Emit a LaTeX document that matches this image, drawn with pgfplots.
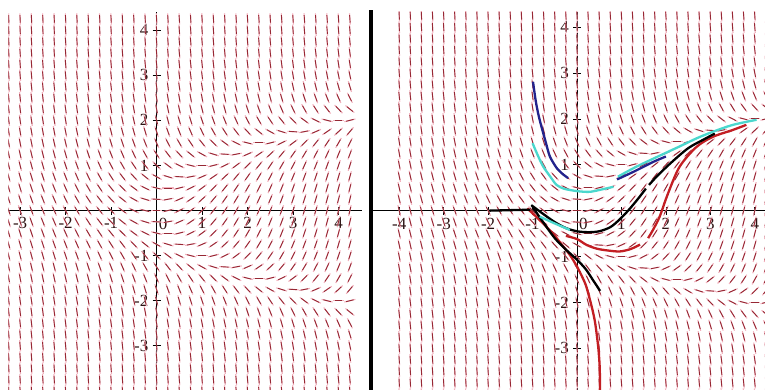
\documentclass[border=0pt]{standalone}
\usepackage{fontspec}
\setmainfont{Liberation Serif}
\usepackage{pgfplots}
\usepackage{pgfplotstable}
\pgfplotsset{compat=1.18}
\definecolor{fieldc}{RGB}{150,40,52}
\definecolor{fieldp}{RGB}{242,178,190}
\definecolor{navyc}{RGB}{35,35,140}
\definecolor{cyanc}{RGB}{75,215,205}
\definecolor{redc}{RGB}{195,30,35}
\definecolor{labc}{RGB}{45,20,20}

% slope dy/dx at grid points: rows y, columns x = -4, -3.75, ..., 4.25 (c0..c33)
\pgfplotstableread{
y c0 c1 c2 c3 c4 c5 c6 c7 c8 c9 c10 c11 c12 c13 c14 c15 c16 c17 c18 c19 c20 c21 c22 c23 c24 c25 c26 c27 c28 c29 c30 c31 c32 c33
4.25 -22.06 -21.81 -21.56 -21.31 -21.06 -20.81 -20.56 -20.31 -20.06 -19.81 -19.56 -19.31 -19.06 -18.81 -18.56 -18.31 -18.06 -17.81 -17.56 -17.31 -17.06 -16.81 -16.56 -16.31 -16.06 -15.81 -15.56 -15.31 -15.06 -14.81 -14.56 -14.31 -14.06 -13.81
4 -20 -19.75 -19.5 -19.25 -19 -18.75 -18.5 -18.25 -18 -17.75 -17.5 -17.25 -17 -16.75 -16.5 -16.25 -16 -15.75 -15.5 -15.25 -15 -14.75 -14.5 -14.25 -14 -13.75 -13.5 -13.25 -13 -12.75 -12.5 -12.25 -12 -11.75
3.75 -18.06 -17.81 -17.56 -17.31 -17.06 -16.81 -16.56 -16.31 -16.06 -15.81 -15.56 -15.31 -15.06 -14.81 -14.56 -14.31 -14.06 -13.81 -13.56 -13.31 -13.06 -12.81 -12.56 -12.31 -12.06 -11.81 -11.56 -11.31 -11.06 -10.81 -10.56 -10.31 -10.06 -9.81
3.5 -16.25 -16 -15.75 -15.5 -15.25 -15 -14.75 -14.5 -14.25 -14 -13.75 -13.5 -13.25 -13 -12.75 -12.5 -12.25 -12 -11.75 -11.5 -11.25 -11 -10.75 -10.5 -10.25 -10 -9.75 -9.5 -9.25 -9 -8.75 -8.5 -8.25 -8
3.25 -14.56 -14.31 -14.06 -13.81 -13.56 -13.31 -13.06 -12.81 -12.56 -12.31 -12.06 -11.81 -11.56 -11.31 -11.06 -10.81 -10.56 -10.31 -10.06 -9.81 -9.56 -9.31 -9.06 -8.81 -8.56 -8.31 -8.06 -7.81 -7.56 -7.31 -7.06 -6.81 -6.56 -6.31
3 -13 -12.75 -12.5 -12.25 -12 -11.75 -11.5 -11.25 -11 -10.75 -10.5 -10.25 -10 -9.75 -9.5 -9.25 -9 -8.75 -8.5 -8.25 -8 -7.75 -7.5 -7.25 -7 -6.75 -6.5 -6.25 -6 -5.75 -5.5 -5.25 -5 -4.75
2.75 -11.56 -11.31 -11.06 -10.81 -10.56 -10.31 -10.06 -9.81 -9.56 -9.31 -9.06 -8.81 -8.56 -8.31 -8.06 -7.81 -7.56 -7.31 -7.06 -6.81 -6.56 -6.31 -6.06 -5.81 -5.56 -5.31 -5.06 -4.81 -4.56 -4.31 -4.06 -3.81 -3.56 -3.31
2.5 -10.25 -10 -9.75 -9.5 -9.25 -9 -8.75 -8.5 -8.25 -8 -7.75 -7.5 -7.25 -7 -6.75 -6.5 -6.25 -6 -5.75 -5.5 -5.25 -5 -4.75 -4.5 -4.25 -4 -3.75 -3.5 -3.25 -3 -2.75 -2.5 -2.25 -2
2.25 -9.06 -8.81 -8.56 -8.31 -8.06 -7.81 -7.56 -7.31 -7.06 -6.81 -6.56 -6.31 -6.06 -5.81 -5.56 -5.31 -5.06 -4.81 -4.56 -4.31 -4.06 -3.81 -3.56 -3.31 -3.06 -2.81 -2.56 -2.31 -2.06 -1.81 -1.56 -1.31 -1.06 -0.81
2 -8 -7.75 -7.5 -7.25 -7 -6.75 -6.5 -6.25 -6 -5.75 -5.5 -5.25 -5 -4.75 -4.5 -4.25 -4 -3.75 -3.5 -3.25 -3 -2.75 -2.5 -2.25 -2 -1.75 -1.5 -1.25 -1 -0.75 -0.5 -0.25 0 0.25
1.75 -7.06 -6.81 -6.56 -6.31 -6.06 -5.81 -5.56 -5.31 -5.06 -4.81 -4.56 -4.31 -4.06 -3.81 -3.56 -3.31 -3.06 -2.81 -2.56 -2.31 -2.06 -1.81 -1.56 -1.31 -1.06 -0.81 -0.56 -0.31 -0.06 0.19 0.44 0.69 0.94 1.19
1.5 -6.25 -6 -5.75 -5.5 -5.25 -5 -4.75 -4.5 -4.25 -4 -3.75 -3.5 -3.25 -3 -2.75 -2.5 -2.25 -2 -1.75 -1.5 -1.25 -1 -0.75 -0.5 -0.25 0 0.25 0.5 0.75 1 1.25 1.5 1.75 2
1.25 -5.56 -5.31 -5.06 -4.81 -4.56 -4.31 -4.06 -3.81 -3.56 -3.31 -3.06 -2.81 -2.56 -2.31 -2.06 -1.81 -1.56 -1.31 -1.06 -0.81 -0.56 -0.31 -0.06 0.19 0.44 0.69 0.94 1.19 1.44 1.69 1.94 2.19 2.44 2.69
1 -5 -4.75 -4.5 -4.25 -4 -3.75 -3.5 -3.25 -3 -2.75 -2.5 -2.25 -2 -1.75 -1.5 -1.25 -1 -0.75 -0.5 -0.25 0 0.25 0.5 0.75 1 1.25 1.5 1.75 2 2.25 2.5 2.75 3 3.25
0.75 -4.56 -4.31 -4.06 -3.81 -3.56 -3.31 -3.06 -2.81 -2.56 -2.31 -2.06 -1.81 -1.56 -1.31 -1.06 -0.81 -0.56 -0.31 -0.06 0.19 0.44 0.69 0.94 1.19 1.44 1.69 1.94 2.19 2.44 2.69 2.94 3.19 3.44 3.69
0.5 -4.25 -4 -3.75 -3.5 -3.25 -3 -2.75 -2.5 -2.25 -2 -1.75 -1.5 -1.25 -1 -0.75 -0.5 -0.25 0 0.25 0.5 0.75 1 1.25 1.5 1.75 2 2.25 2.5 2.75 3 3.25 3.5 3.75 4
0.25 -4.06 -3.81 -3.56 -3.31 -3.06 -2.81 -2.56 -2.31 -2.06 -1.81 -1.56 -1.31 -1.06 -0.81 -0.56 -0.31 -0.06 0.19 0.44 0.69 0.94 1.19 1.44 1.69 1.94 2.19 2.44 2.69 2.94 3.19 3.44 3.69 3.94 4.19
0 -4 -3.75 -3.5 -3.25 -3 -2.75 -2.5 -2.25 -2 -1.75 -1.5 -1.25 -1 -0.75 -0.5 -0.25 0 0.25 0.5 0.75 1 1.25 1.5 1.75 2 2.25 2.5 2.75 3 3.25 3.5 3.75 4 4.25
-0.25 -4.06 -3.81 -3.56 -3.31 -3.06 -2.81 -2.56 -2.31 -2.06 -1.81 -1.56 -1.31 -1.06 -0.81 -0.56 -0.31 -0.06 0.19 0.44 0.69 0.94 1.19 1.44 1.69 1.94 2.19 2.44 2.69 2.94 3.19 3.44 3.69 3.94 4.19
-0.5 -4.25 -4 -3.75 -3.5 -3.25 -3 -2.75 -2.5 -2.25 -2 -1.75 -1.5 -1.25 -1 -0.75 -0.5 -0.25 0 0.25 0.5 0.75 1 1.25 1.5 1.75 2 2.25 2.5 2.75 3 3.25 3.5 3.75 4
-0.75 -4.56 -4.31 -4.06 -3.81 -3.56 -3.31 -3.06 -2.81 -2.56 -2.31 -2.06 -1.81 -1.56 -1.31 -1.06 -0.81 -0.56 -0.31 -0.06 0.19 0.44 0.69 0.94 1.19 1.44 1.69 1.94 2.19 2.44 2.69 2.94 3.19 3.44 3.69
-1 -5 -4.75 -4.5 -4.25 -4 -3.75 -3.5 -3.25 -3 -2.75 -2.5 -2.25 -2 -1.75 -1.5 -1.25 -1 -0.75 -0.5 -0.25 0 0.25 0.5 0.75 1 1.25 1.5 1.75 2 2.25 2.5 2.75 3 3.25
-1.25 -5.56 -5.31 -5.06 -4.81 -4.56 -4.31 -4.06 -3.81 -3.56 -3.31 -3.06 -2.81 -2.56 -2.31 -2.06 -1.81 -1.56 -1.31 -1.06 -0.81 -0.56 -0.31 -0.06 0.19 0.44 0.69 0.94 1.19 1.44 1.69 1.94 2.19 2.44 2.69
-1.5 -6.25 -6 -5.75 -5.5 -5.25 -5 -4.75 -4.5 -4.25 -4 -3.75 -3.5 -3.25 -3 -2.75 -2.5 -2.25 -2 -1.75 -1.5 -1.25 -1 -0.75 -0.5 -0.25 0 0.25 0.5 0.75 1 1.25 1.5 1.75 2
-1.75 -7.06 -6.81 -6.56 -6.31 -6.06 -5.81 -5.56 -5.31 -5.06 -4.81 -4.56 -4.31 -4.06 -3.81 -3.56 -3.31 -3.06 -2.81 -2.56 -2.31 -2.06 -1.81 -1.56 -1.31 -1.06 -0.81 -0.56 -0.31 -0.06 0.19 0.44 0.69 0.94 1.19
-2 -8 -7.75 -7.5 -7.25 -7 -6.75 -6.5 -6.25 -6 -5.75 -5.5 -5.25 -5 -4.75 -4.5 -4.25 -4 -3.75 -3.5 -3.25 -3 -2.75 -2.5 -2.25 -2 -1.75 -1.5 -1.25 -1 -0.75 -0.5 -0.25 0 0.25
-2.25 -9.06 -8.81 -8.56 -8.31 -8.06 -7.81 -7.56 -7.31 -7.06 -6.81 -6.56 -6.31 -6.06 -5.81 -5.56 -5.31 -5.06 -4.81 -4.56 -4.31 -4.06 -3.81 -3.56 -3.31 -3.06 -2.81 -2.56 -2.31 -2.06 -1.81 -1.56 -1.31 -1.06 -0.81
-2.5 -10.25 -10 -9.75 -9.5 -9.25 -9 -8.75 -8.5 -8.25 -8 -7.75 -7.5 -7.25 -7 -6.75 -6.5 -6.25 -6 -5.75 -5.5 -5.25 -5 -4.75 -4.5 -4.25 -4 -3.75 -3.5 -3.25 -3 -2.75 -2.5 -2.25 -2
-2.75 -11.56 -11.31 -11.06 -10.81 -10.56 -10.31 -10.06 -9.81 -9.56 -9.31 -9.06 -8.81 -8.56 -8.31 -8.06 -7.81 -7.56 -7.31 -7.06 -6.81 -6.56 -6.31 -6.06 -5.81 -5.56 -5.31 -5.06 -4.81 -4.56 -4.31 -4.06 -3.81 -3.56 -3.31
-3 -13 -12.75 -12.5 -12.25 -12 -11.75 -11.5 -11.25 -11 -10.75 -10.5 -10.25 -10 -9.75 -9.5 -9.25 -9 -8.75 -8.5 -8.25 -8 -7.75 -7.5 -7.25 -7 -6.75 -6.5 -6.25 -6 -5.75 -5.5 -5.25 -5 -4.75
-3.25 -14.56 -14.31 -14.06 -13.81 -13.56 -13.31 -13.06 -12.81 -12.56 -12.31 -12.06 -11.81 -11.56 -11.31 -11.06 -10.81 -10.56 -10.31 -10.06 -9.81 -9.56 -9.31 -9.06 -8.81 -8.56 -8.31 -8.06 -7.81 -7.56 -7.31 -7.06 -6.81 -6.56 -6.31
-3.5 -16.25 -16 -15.75 -15.5 -15.25 -15 -14.75 -14.5 -14.25 -14 -13.75 -13.5 -13.25 -13 -12.75 -12.5 -12.25 -12 -11.75 -11.5 -11.25 -11 -10.75 -10.5 -10.25 -10 -9.75 -9.5 -9.25 -9 -8.75 -8.5 -8.25 -8
-3.75 -18.06 -17.81 -17.56 -17.31 -17.06 -16.81 -16.56 -16.31 -16.06 -15.81 -15.56 -15.31 -15.06 -14.81 -14.56 -14.31 -14.06 -13.81 -13.56 -13.31 -13.06 -12.81 -12.56 -12.31 -12.06 -11.81 -11.56 -11.31 -11.06 -10.81 -10.56 -10.31 -10.06 -9.81
-4 -20 -19.75 -19.5 -19.25 -19 -18.75 -18.5 -18.25 -18 -17.75 -17.5 -17.25 -17 -16.75 -16.5 -16.25 -16 -15.75 -15.5 -15.25 -15 -14.75 -14.5 -14.25 -14 -13.75 -13.5 -13.25 -13 -12.75 -12.5 -12.25 -12 -11.75
}\field

% one layer of slope segments: #1 length (axis units), #2 colour, #3 line width
\newcommand{\drawfield}[3]{%
  \pgfplotsinvokeforeach{0,...,33}{%
    \addplot[forget plot, no markers, draw=#2, line width=#3,
      quiver={u={#1/sqrt(1+(\thisrow{c##1})^2)}, v={#1*(\thisrow{c##1})/sqrt(1+(\thisrow{c##1})^2)}}]
      table[x expr={-4+0.25*##1-0.5*#1/sqrt(1+(\thisrow{c##1})^2)},
            y expr={\thisrow{y}-0.5*#1*(\thisrow{c##1})/sqrt(1+(\thisrow{c##1})^2)}] {\field};
  }%
}

\pgfplotsset{
  slopeaxis/.style={
    scale only axis, axis lines=middle,
    axis line style={-, black, line width=0.7pt},
    ytick={-3,-2,-1,1,2,3,4},
    hide obscured x ticks=false, hide obscured y ticks=false,
    tick align=center, major tick length=8pt,
    tick style={black, line width=0.7pt},
    ticklabel style={font=\fontsize{17}{17}\selectfont, text=labc, inner sep=1pt},
    /pgf/number format/assume math mode=true,
    xticklabel style={anchor=north, yshift=-2pt},
    yticklabel style={anchor=east, xshift=-3pt},
    extra x ticks={0},
    extra x tick style={xticklabel style={anchor=north west, xshift=1pt}},
  },
  sol/.style={line width=2.3pt, smooth, no markers},
}

\begin{document}
\begin{tikzpicture}
\useasboundingbox (0,0) rectangle (765pt,390pt);

% ---------- left panel ----------
\begin{axis}[slopeaxis, at={(8.3pt,0pt)}, anchor=south west,
  width=353.4pt, height=378.3pt,
  xmin=-3.26, xmax=4.51, ymin=-3.98, ymax=4.41,
  xtick={-3,-2,-1,1,2,3,4}]
\drawfield{0.25}{fieldp}{1.1pt}
\drawfield{0.17}{fieldc}{0.9pt}
\end{axis}

% ---------- right panel ----------
\begin{axis}[slopeaxis, at={(373pt,0pt)}, anchor=south west,
  width=392pt, height=378pt,
  xmin=-4.59, xmax=4.23, ymin=-3.91, ymax=4.33,
  xtick={-4,-3,-2,-1,1,2,3,4}]
\drawfield{0.25}{fieldp}{1.1pt}
\drawfield{0.17}{fieldc}{0.9pt}
% solution curves
\addplot[redc, sol] coordinates {(-1.12,0.05) (-0.9,-0.15) (-0.69,-0.35) (-0.5,-0.55) (-0.31,-0.78) (-0.15,-0.98) (0,-1.22) (0.12,-1.45) (0.21,-1.66) (0.33,-2.09) (0.4,-2.4) (0.44,-2.67) (0.48,-3.0) (0.51,-3.4) (0.52,-3.95)};
\addplot[redc, sol] coordinates {(-0.25,-0.55) (0,-0.62) (0.22,-0.75) (0.45,-0.83) (0.7,-0.87) (0.96,-0.89) (1.2,-0.84) (1.42,-0.74)};
\addplot[redc, sol] coordinates {(1.6,-0.6) (1.71,-0.42) (1.86,-0.13) (2.05,0.38) (2.31,0.96) (2.69,1.39) (3.06,1.61) (3.51,1.76) (3.81,1.87)};
\addplot[black, line width=2.3pt, no markers] coordinates {(-1.97,0) (-1.05,0.02)};
\addplot[black, sol] coordinates {(-1.03,0.12) (-0.75,-0.08) (-0.5,-0.25) (-0.25,-0.38) (0,-0.45) (0.25,-0.47) (0.5,-0.45) (0.75,-0.36) (0.95,-0.2) (1.15,0) (1.35,0.23) (1.55,0.48)};
\addplot[black, sol] coordinates {(1.62,0.56) (1.8,0.75) (2.1,1.03) (2.5,1.36) (2.85,1.55) (3.1,1.68)};
\addplot[black, sol] coordinates {(-1.0,0.08) (-0.8,-0.2) (-0.5,-0.6) (-0.25,-0.85) (0,-1.07) (0.2,-1.28) (0.35,-1.5) (0.52,-1.75)};
\addplot[navyc, sol] coordinates {(-0.99,2.81) (-0.93,2.4) (-0.87,2.1) (-0.8,1.83) (-0.7,1.48) (-0.61,1.18) (-0.45,0.92) (-0.3,0.78) (-0.2,0.71)};
\addplot[navyc, sol] coordinates {(0.9,0.68) (1.3,0.86) (1.71,1.06) (2.0,1.18)};
\addplot[cyanc, sol] coordinates {(-1.0,1.47) (-0.88,1.2) (-0.76,0.96) (-0.6,0.74) (-0.46,0.56) (-0.3,0.48) (-0.16,0.45) (0.05,0.42) (0.29,0.41) (0.55,0.46) (0.82,0.52)};
\addplot[cyanc, sol] coordinates {(0.92,0.74) (1.3,0.94) (1.71,1.13) (2.31,1.4) (2.7,1.58) (3.06,1.72) (3.51,1.87) (4.04,1.98)};
\addplot[cyanc, sol] coordinates {(-0.84,-0.13) (-0.5,-0.28) (-0.16,-0.42)};
\end{axis}

% panel divider
\draw[black, line width=3.5pt] (371.2pt,0pt) -- (371.2pt,380pt);
\end{tikzpicture}
\end{document}
